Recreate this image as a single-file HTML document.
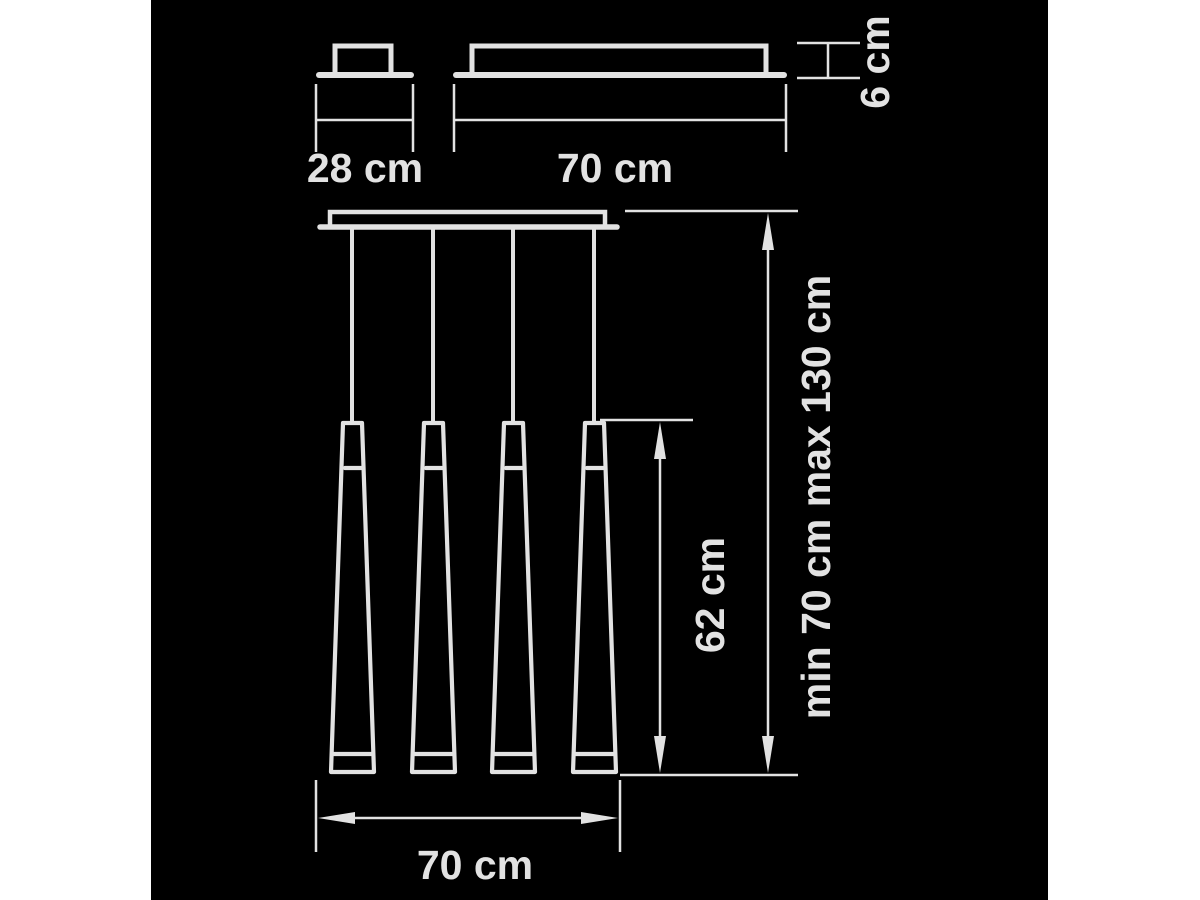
<!DOCTYPE html>
<html><head><style>html,body{margin:0;padding:0;background:#fff}svg{display:block}</style></head><body>
<svg width="1200" height="900" viewBox="0 0 1200 900" xmlns="http://www.w3.org/2000/svg">
<rect x="0" y="0" width="1200" height="900" fill="#fff"/>
<rect x="151" y="0" width="897" height="900" fill="#000"/>
<g stroke="#e2e2e2" fill="none" stroke-linecap="round">
<path d="M335 74 V46 H391 V74" stroke-width="5"/>
<line x1="319" y1="75" x2="411" y2="75" stroke-width="6"/>
<path d="M472 74 V46 H766 V74" stroke-width="5"/>
<line x1="456" y1="75" x2="784" y2="75" stroke-width="6"/>
<g stroke-width="2.5" stroke-linecap="butt">
<line x1="316" y1="84" x2="316" y2="152"/><line x1="413" y1="84" x2="413" y2="152"/><line x1="316" y1="120" x2="413" y2="120"/>
<line x1="454" y1="84" x2="454" y2="152"/><line x1="786" y1="84" x2="786" y2="152"/><line x1="454" y1="120" x2="786" y2="120"/>
<line x1="797" y1="43" x2="860" y2="43"/><line x1="797" y1="78" x2="860" y2="78"/><line x1="828" y1="43" x2="828" y2="78"/>
</g>
<path d="M330 226 V212 H605 V226" stroke-width="4.5"/>
<line x1="320" y1="227" x2="617" y2="227" stroke-width="5.5"/>
<g stroke-width="4" stroke-linecap="butt">
<line x1="352" y1="229" x2="352" y2="421"/><line x1="433" y1="229" x2="433" y2="421"/><line x1="513" y1="229" x2="513" y2="421"/><line x1="594" y1="229" x2="594" y2="421"/>
</g>
<g stroke-width="4.2" stroke-linejoin="round">
<g id="p"><path d="M343 423 H362 L374 772 H331 Z"/><line x1="345" y1="468" x2="361" y2="468"/><line x1="333" y1="754" x2="373" y2="754"/></g>
<use href="#p" x="81"/><use href="#p" x="161"/><use href="#p" x="242"/>
</g>
<g stroke-width="2.5" stroke-linecap="butt">
<line x1="625" y1="211" x2="798" y2="211"/><line x1="620" y1="775" x2="798" y2="775"/>
<line x1="768" y1="240" x2="768" y2="745"/>
<line x1="600" y1="420" x2="693" y2="420"/>
<line x1="660" y1="450" x2="660" y2="745"/>
<line x1="316" y1="780" x2="316" y2="852"/><line x1="620" y1="780" x2="620" y2="852"/>
<line x1="345" y1="818" x2="591" y2="818"/>
</g>
</g>
<g fill="#e2e2e2">
<path d="M768 213 L774 250 H762 Z"/><path d="M768 773 L774 736 H762 Z"/>
<path d="M660 422 L666 459 H654 Z"/><path d="M660 773 L666 736 H654 Z"/>
<path d="M318 818 L355 812 V824 Z"/><path d="M618 818 L581 812 V824 Z"/>
</g>
<g fill="#e2e2e2" font-family="Liberation Sans, sans-serif" font-weight="bold" font-size="41" text-anchor="middle">
<text x="365" y="182">28 cm</text>
<text x="615" y="182">70 cm</text>
<text x="475" y="879">70 cm</text>
<text transform="translate(889 62) rotate(-90)">6 cm</text>
<text transform="translate(724 595) rotate(-90)">62 cm</text>
<text transform="translate(830 497) rotate(-90)">min 70 cm max 130 cm</text>
</g>
</svg>
</body></html>
